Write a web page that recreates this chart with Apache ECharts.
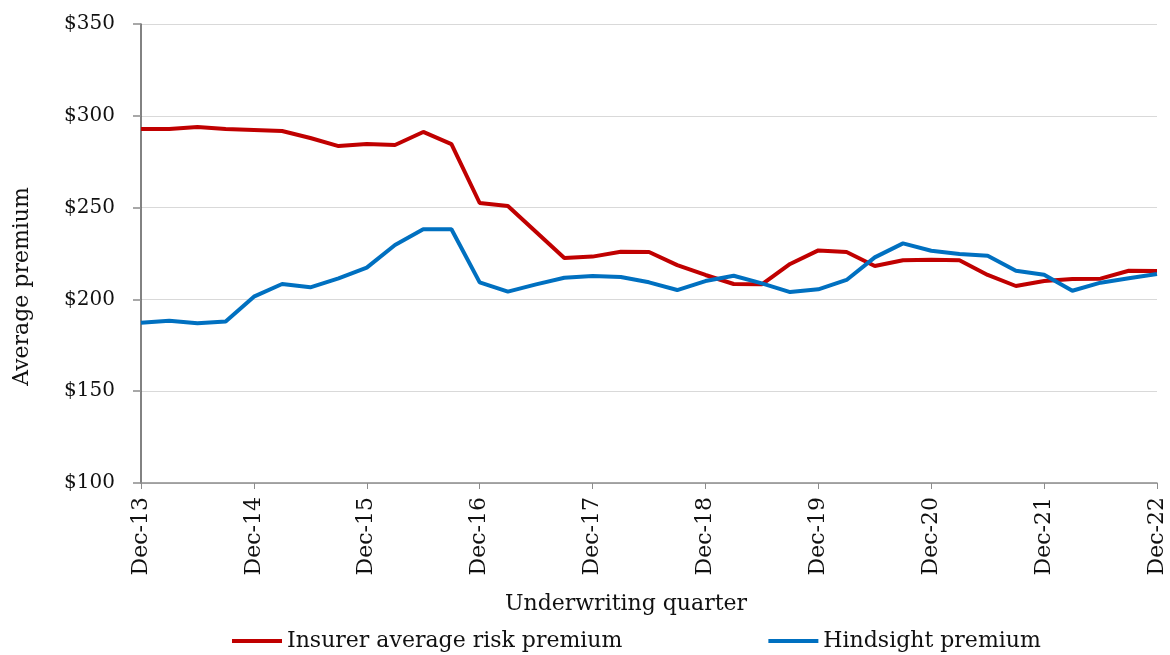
<!DOCTYPE html>
<html>
<head>
<meta charset="utf-8">
<script src="https://cdn.jsdelivr.net/npm/echarts@6/dist/echarts.min.js"></script>
<style>
html,body{margin:0;padding:0;background:#fff;}
#chart{width:1170px;height:655px;}
</style>
</head>
<body>
<div id="chart"></div>
<script>
const quarters = (function(){
  const out = [];
  const m = ['Dec','Mar','Jun','Sep'];
  for (let i = 0; i < 37; i++) {
    const yr = 13 + Math.floor((i + 3) / 4);
    out.push(m[i % 4] + '-' + yr);
  }
  return out;
})();

const insurerPremium = [292.8, 292.8, 293.9, 292.8, 292.3, 291.7, 287.9, 283.5, 284.6, 284.1,
  291.2, 284.6, 252.5, 250.9, 236.7, 222.5, 223.3, 226.0, 225.8, 218.7,
  213.3, 208.4, 208.2, 219.3, 226.7, 225.8, 218.2, 221.3, 221.6, 221.3,
  213.3, 207.3, 210.0, 211.1, 211.3, 215.6, 215.5];

const hindsightPremium = [187.3, 188.4, 187.0, 188.0, 201.5, 208.4, 206.6, 211.5, 217.3, 229.6,
  238.2, 238.2, 209.3, 204.2, 208.2, 211.8, 212.7, 212.2, 209.3, 205.1,
  210.0, 212.9, 208.7, 204.0, 205.5, 210.6, 222.9, 230.5, 226.5, 224.7,
  223.8, 215.6, 213.4, 204.7, 209.1, 211.5, 213.8];

const yTicks = { min: 100, max: 350, interval: 50 };

const serif = 'DejaVu Serif';
const chart = echarts.init(document.getElementById('chart'));
chart.setOption({
  backgroundColor: '#ffffff',
  animation: false,
  grid: { left: 141, right: 13, top: 24, bottom: 172 },
  legend: {
    bottom: -2,
    left: 227,
    itemGap: 146,
    itemWidth: 50,
    itemHeight: 4,
    icon: 'rect',
    textStyle: { fontFamily: serif, fontSize: 22, color: '#111' },
    data: ['Insurer average risk premium', 'Hindsight premium']
  },
  xAxis: {
    type: 'category',
    data: quarters,
    boundaryGap: false,
    name: 'Underwriting quarter',
    nameLocation: 'middle',
    nameGap: 110,
    nameTextStyle: { fontFamily: serif, fontSize: 22, color: '#111', padding: [0, 46, 0, 0] },
    axisLine: { lineStyle: { color: '#8c8c8c', width: 1.5 } },
    axisTick: { show: true, interval: 3, length: 6, lineStyle: { color: '#8c8c8c' } },
    axisLabel: {
      interval: 3,
      rotate: 90,
      margin: 14,
      fontFamily: serif,
      fontSize: 22,
      color: '#111'
    },
    splitLine: { show: false }
  },
  yAxis: {
    type: 'value',
    min: yTicks.min,
    max: yTicks.max,
    interval: yTicks.interval,
    name: 'Average premium',
    nameLocation: 'middle',
    nameGap: 108,
    nameRotate: 90,
    nameTextStyle: { fontFamily: serif, fontSize: 22, color: '#111', padding: [0, 66, 0, 0] },
    axisLine: { show: true, lineStyle: { color: '#595959', width: 1.5 } },
    axisTick: { show: true, length: 8, lineStyle: { color: '#8c8c8c', width: 1.5 } },
    axisLabel: {
      margin: 26,
      fontFamily: serif,
      fontSize: 20,
      color: '#111',
      formatter: v => '$' + v
    },
    splitLine: { show: true, lineStyle: { color: '#d9d9d9', width: 1 } }
  },
  series: [
    {
      name: 'Insurer average risk premium',
      type: 'line',
      data: insurerPremium,
      showSymbol: false,
      symbol: 'none',
      color: '#c00000',
      lineStyle: { color: '#c00000', width: 4 }
    },
    {
      name: 'Hindsight premium',
      type: 'line',
      data: hindsightPremium,
      showSymbol: false,
      symbol: 'none',
      color: '#0070c0',
      lineStyle: { color: '#0070c0', width: 4 }
    }
  ]
});
</script>
</body>
</html>
